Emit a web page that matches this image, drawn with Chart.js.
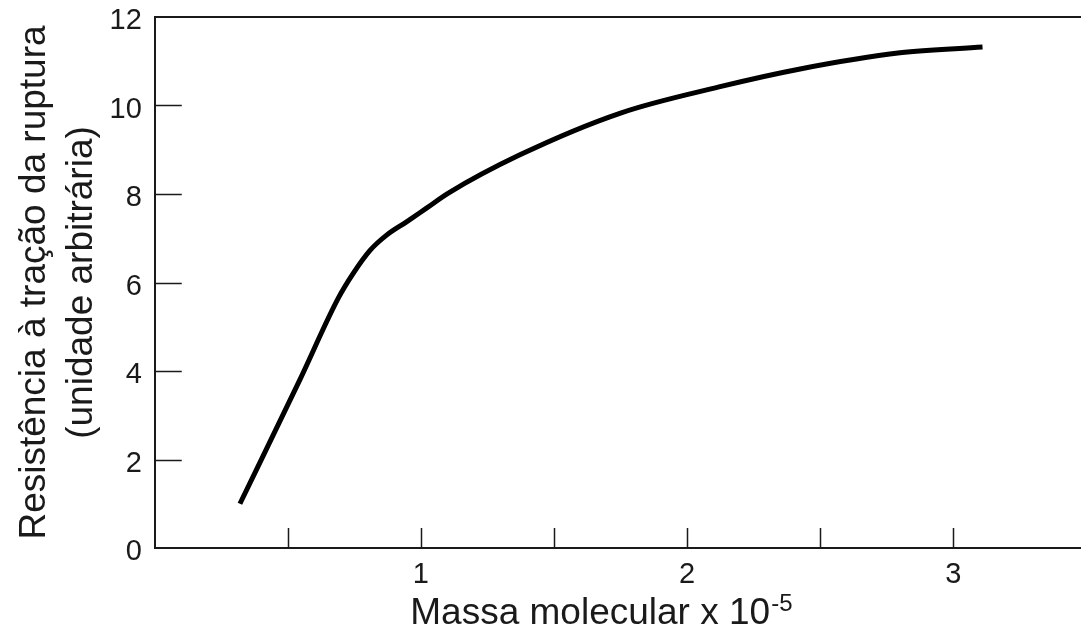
<!DOCTYPE html>
<html>
<head>
<meta charset="utf-8">
<script src="https://cdn.jsdelivr.net/npm/chart.js@4"></script>
<style>
  html, body { margin: 0; padding: 0; background: #fff; }
  #wrap { width: 1081px; height: 629px; }
</style>
</head>
<body>
<div id="wrap"><canvas id="chart" width="1081" height="629"></canvas></div>
<script>
  // curva (massa molecular x 10^-5, resistência)
  const massa = [0.32, 0.545, 0.689, 0.745, 0.808, 0.871, 0.946, 1.021, 1.103, 1.37, 1.75, 2.12, 2.42, 2.8, 3.11];
  const resistencia = [1.0, 3.8, 5.64, 6.2, 6.72, 7.07, 7.37, 7.68, 8.02, 8.88, 9.83, 10.42, 10.82, 11.19, 11.32];

  const xLabels = [1, 2, 3];
  const xTicksAt = [0.5, 1, 1.5, 2, 2.5, 3];
  const yTicksAt = [2, 4, 6, 8, 10];

  const FONT = '"Liberation Sans", Arial, Helvetica, sans-serif';
  const INK = "#1a1a1a";
  const X_PAD = 12;
  const Y_PAD = 13;

  // marcas de escala para dentro + linha superior
  const tickMarks = {
    id: "tickMarks",
    afterDraw(chart) {
      const { ctx, chartArea: a, scales } = chart;
      ctx.save();
      ctx.strokeStyle = INK;
      ctx.lineWidth = 1.5;
      ctx.beginPath();
      xTicksAt.forEach((v) => {
        const px = Math.round(scales.x.getPixelForValue(v)) + 0.5;
        ctx.moveTo(px, a.bottom);
        ctx.lineTo(px, a.bottom - 20);
      });
      yTicksAt.forEach((v) => {
        const py = Math.round(scales.y.getPixelForValue(v)) + 0.5;
        ctx.moveTo(a.left, py);
        ctx.lineTo(a.left + 27, py);
      });
      ctx.stroke();
      ctx.lineWidth = 2;
      ctx.beginPath();
      ctx.moveTo(a.left, a.top);
      ctx.lineTo(a.right, a.top);
      ctx.stroke();
      ctx.restore();
    },
  };

  // título do eixo x com expoente em sobrescrito
  const xTitle = {
    id: "xTitle",
    afterDraw(chart) {
      const { ctx, chartArea: a } = chart;
      const main = "Massa molecular x 10";
      const sup = "-5";
      ctx.save();
      ctx.fillStyle = INK;
      ctx.textBaseline = "alphabetic";
      ctx.textAlign = "left";
      ctx.font = `37px ${FONT}`;
      const wMain = ctx.measureText(main).width;
      ctx.font = `24px ${FONT}`;
      const wSup = ctx.measureText(sup).width;
      const cx = (a.left + a.right) / 2 - 17;
      const x0 = cx - (wMain + wSup) / 2;
      const base = a.bottom + 76;
      ctx.font = `37px ${FONT}`;
      ctx.fillText(main, x0, base);
      ctx.font = `24px ${FONT}`;
      ctx.fillText(sup, x0 + wMain + 1, base - 13);
      ctx.restore();
    },
  };

  new Chart(document.getElementById("chart"), {
    type: "line",
    data: {
      datasets: [
        {
          data: massa.map((x, i) => ({ x, y: resistencia[i] })),
          borderColor: "#000",
          borderWidth: 5,
          pointRadius: 0,
          cubicInterpolationMode: "monotone",
          borderCapStyle: "butt",
          fill: false,
        },
      ],
    },
    options: {
      responsive: false,
      animation: false,
      parsing: false,
      layout: { autoPadding: false, padding: { left: 12, top: 17, right: 0, bottom: 40 } },
      plugins: {
        legend: { display: false },
        tooltip: { enabled: false },
      },
      scales: {
        x: {
          type: "linear",
          min: 0,
          max: 3.48,
          grid: { display: false, drawTicks: false },
          border: { display: true, color: INK, width: 2 },
          ticks: {
            stepSize: 0.5,
            autoSkip: false,
            maxRotation: 0,
            padding: X_PAD,
            color: INK,
            font: { family: FONT, size: 29, lineHeight: 1 },
            callback: (v) => (xLabels.includes(v) ? String(v) : ""),
          },
          title: { display: false },
          afterFit(s) {
            // sem folga extra: o eixo vai até a borda direita
            s.paddingLeft = 0;
            s.paddingRight = 0;
            s.height -= X_PAD;
          },
        },
        y: {
          type: "linear",
          min: 0,
          max: 12,
          grid: { display: false, drawTicks: false },
          border: { display: true, color: INK, width: 2 },
          ticks: {
            stepSize: 2,
            padding: Y_PAD,
            labelOffset: 4,
            color: INK,
            font: { family: FONT, size: 29 },
          },
          title: {
            display: true,
            text: ["Resistência à tração da ruptura", "(unidade arbitrária)"],
            color: INK,
            font: { family: FONT, size: 37, lineHeight: 1.25 },
            padding: { top: 0, bottom: 5 },
          },
          afterFit(s) {
            s.paddingTop = 0;
            s.paddingBottom = 0;
            s.width -= Y_PAD;
          },
        },
      },
    },
    plugins: [tickMarks, xTitle],
  });
</script>
</body>
</html>
